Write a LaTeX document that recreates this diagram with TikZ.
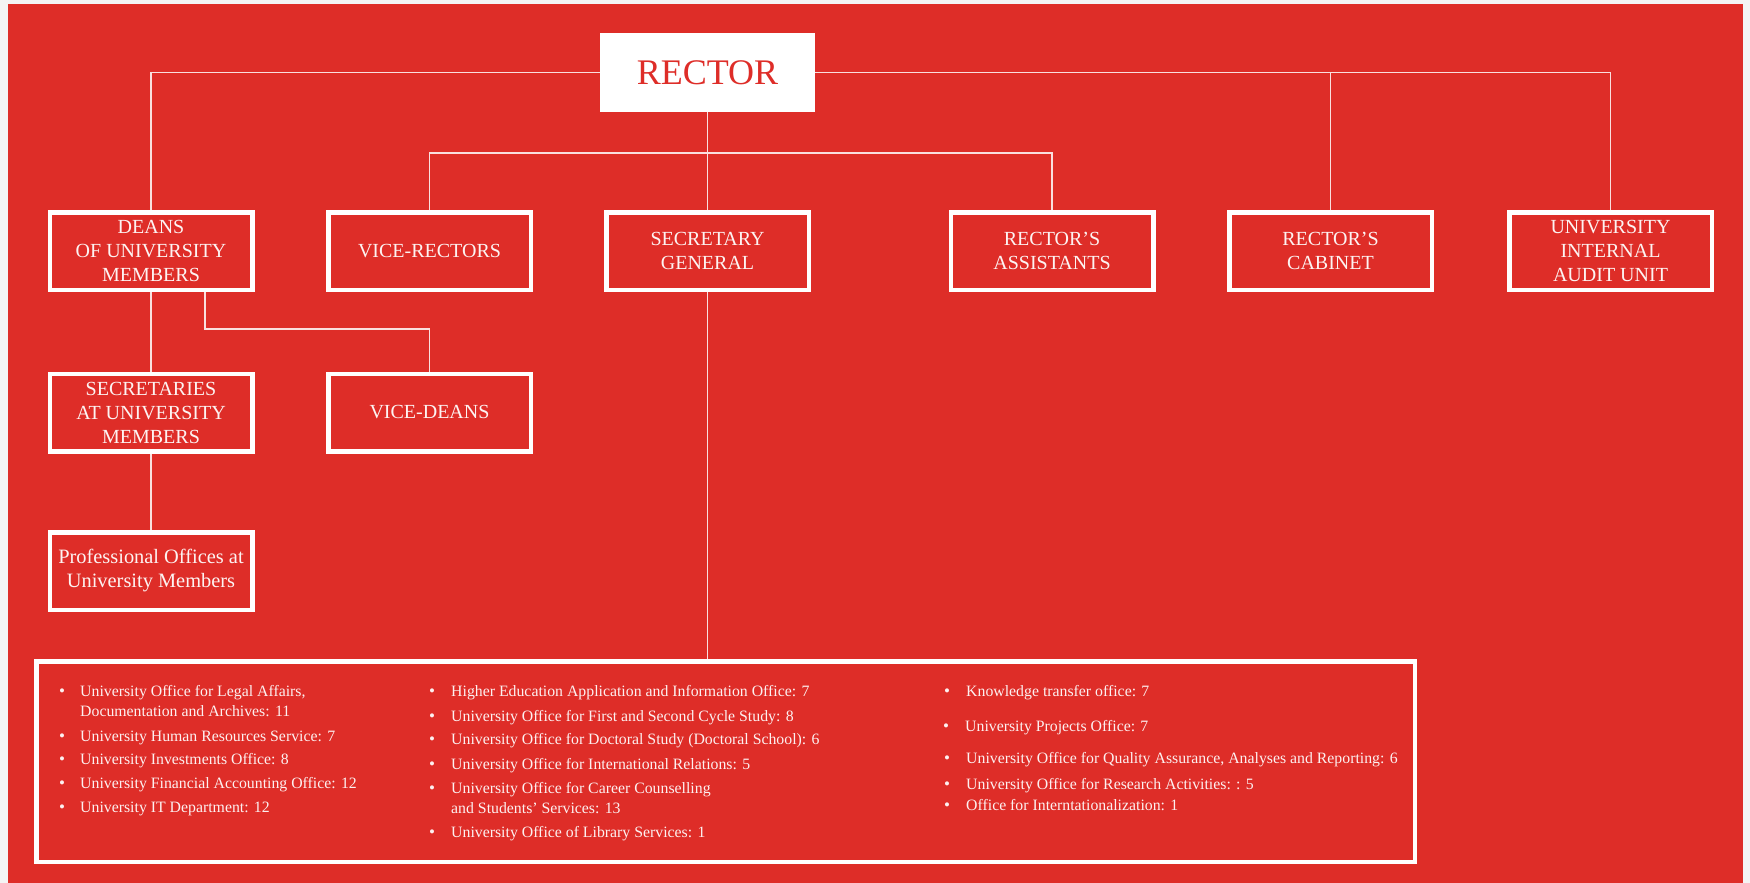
\documentclass[tikz,border=0pt]{standalone}
\usepackage{fontspec}
\setmainfont{Liberation Serif}
\usepackage{tikz}

\definecolor{rectorred}{RGB}{222,45,40}
\definecolor{pagegray}{RGB}{244,244,244}

\tikzset{
  unit/.style={draw=white, line width=4.5pt, text=white!94!rectorred, align=center,
    minimum width=202.5pt, minimum height=77.5pt, inner sep=2pt,
    font=\fontsize{20}{24}\selectfont},
  link/.style={draw=white!85!rectorred, line width=1.5pt},
  officeitem/.style={anchor=west, text=white!93!rectorred, inner sep=0pt,
    text height=11pt, text depth=4pt, font=\fontsize{15.8}{19}\selectfont},
  dot/.style={officeitem, anchor=center, font=\fontsize{17}{19}\selectfont}
}

\begin{document}
\begin{tikzpicture}[x=1pt, y=-1pt]
			% Background
			\fill[pagegray] (0,0) rectangle (1750,883);
			\fill[rectorred] (8,4) rectangle (1743,883);
			% Nodes
			\node[fill=white, text=rectorred, minimum width=215pt, minimum height=78pt, inner sep=0pt, font=\fontsize{36}{40}\selectfont] (rector) at (707.5,72.5) {RECTOR};
			\foreach \name/\x/\txt in {deans/151/{DEANS\\OF UNIVERSITY\\MEMBERS}, vicerectors/429.5/{VICE-RECTORS}, secgen/707.5/{SECRETARY\\GENERAL}, assistants/1052/{RECTOR'S\\ASSISTANTS}, cabinet/1330.5/{RECTOR'S\\CABINET}, audit/1610.5/{UNIVERSITY\\INTERNAL\\AUDIT UNIT}} {
				\node[unit] (\name) at (\x,251) {\txt};
			}
			\node[unit] (secretaries) at (151,412.5) {SECRETARIES\\AT UNIVERSITY\\MEMBERS};
			\node[unit] (vicedeans) at (429.5,412.5) {VICE-DEANS};
			\node[unit, font=\fontsize{20.4}{24}\selectfont] (professional) at (151,571) {Professional Offices at\\University Members};
			\node[draw=white, line width=4.5pt, minimum width=1378.5pt, minimum height=200.5pt] (offices) at (725.5,761.5) {};
			\coordinate (rectorhub) at (707.5,153);
			% Connectors
			\draw[link] (rector.west) -| (deans.north);
			\draw[link] (rector.east) -| (audit.north);
			\draw[link] (cabinet.north) -- (cabinet.north |- rector.east);
			\draw[link] (rector.south) -- (secgen.north);
			\draw[link] (vicerectors.north) |- (rectorhub) -| (assistants.north);
			\draw[link] (deans.south) -- (secretaries.north);
			\draw[link] ([xshift=54pt]deans.south) -- ++(0,37) -| (vicedeans.north);
			\draw[link] (secretaries.south) -- (professional.north);
			\draw[link] (secgen.south) -- (secgen.south |- offices.north);
			% Offices under the Secretary General
			\foreach \y in {693,738,761,785,809} {
				\node[dot] (bulletA\y) at (62,\y) {\textbullet};
			}
			\node[officeitem] (legal) at (80,693) {University Office for Legal Affairs,};
			\node[officeitem] (legalb) at (80,713) {Documentation and Archives: 11};
			\node[officeitem] (hr) at (80,738) {University Human Resources Service: 7};
			\node[officeitem] (invest) at (80,761) {University Investments Office: 8};
			\node[officeitem] (finance) at (80,785) {University Financial Accounting Office: 12};
			\node[officeitem] (it) at (80,809) {University IT Department: 12};
			\foreach \y in {693,718,741,766,790,834} {
				\node[dot] (bulletB\y) at (432,\y) {\textbullet};
			}
			\node[officeitem] (apply) at (451,693) {Higher Education Application and Information Office: 7};
			\node[officeitem] (cycle) at (451,718) {University Office for First and Second Cycle Study: 8};
			\node[officeitem] (doctoral) at (451,741) {University Office for Doctoral Study (Doctoral School): 6};
			\node[officeitem] (intl) at (451,766) {University Office for International Relations: 5};
			\node[officeitem] (career) at (451,790) {University Office for Career Counselling};
			\node[officeitem] (careerb) at (451,810) {and Students' Services: 13};
			\node[officeitem] (library) at (451,834) {University Office of Library Services: 1};
			\foreach \y/\x in {693/947,728/946,760/947,786/947,807/947} {
				\node[dot] (bulletC\y) at (\x,\y) {\textbullet};
			}
			\node[officeitem] (transfer) at (966,693) {Knowledge transfer office: 7};
			\node[officeitem] (projects) at (965,728) {University Projects Office: 7};
			\node[officeitem] (quality) at (966,760) {University Office for Quality Assurance, Analyses and Reporting: 6};
			\node[officeitem] (research) at (966,786) {University Office for Research Activities: : 5};
			\node[officeitem] (internat) at (966,807) {Office for Interntationalization: 1};
		\end{tikzpicture}
\end{document}
